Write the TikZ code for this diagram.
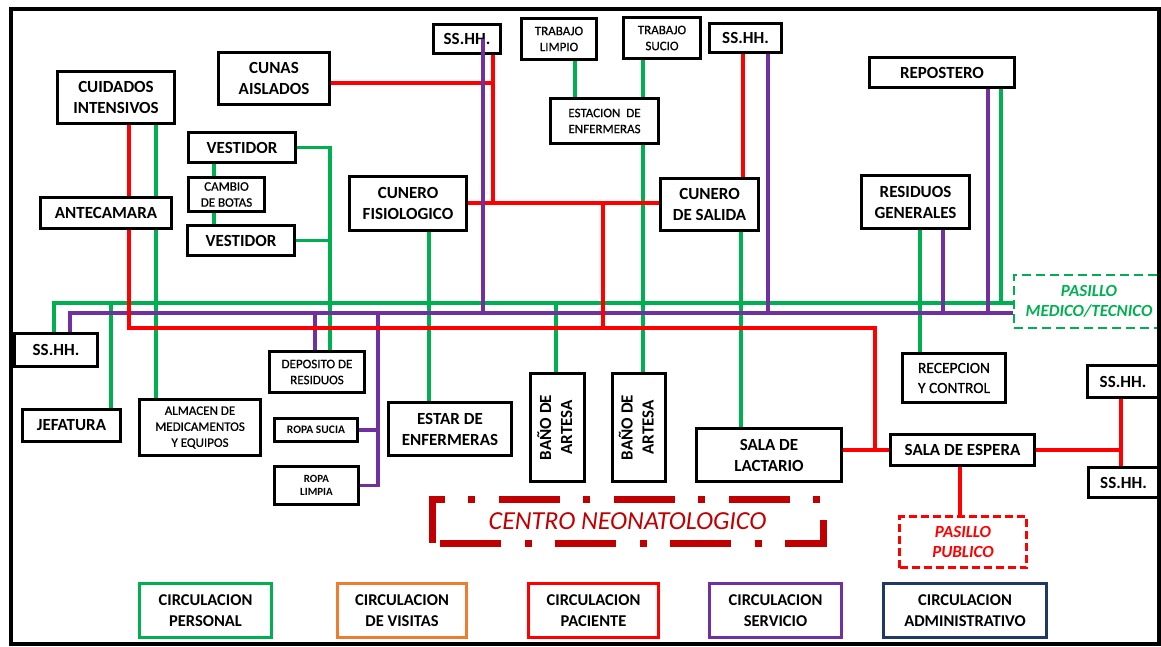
\documentclass[tikz,border=0pt]{standalone}
\usepackage{fontspec}
\setmainfont{Carlito}
\newfontfamily\semib{Carlito}[FakeBold=0.6]
\definecolor{cgreen}{HTML}{00B050}
\definecolor{cpurple}{HTML}{7030A0}
\definecolor{cred}{HTML}{FF0000}
\definecolor{cdred}{HTML}{C00000}
\definecolor{corange}{HTML}{ED7D31}
\definecolor{cnavy}{HTML}{1F3864}
\pgfdeclarelayer{bg}
\pgfsetlayers{bg,main}
\begin{document}
\begin{tikzpicture}[x=1pt,y=-1pt,
  sz/.style 2 args={minimum width=#1pt, minimum height=#2pt},
  box/.style={draw=black, line width=2.8pt, fill=white, inner sep=0pt, align=center,
    font=\bfseries\fontsize{17}{21}\selectfont},
  sbox/.style={box, font=\semib\fontsize{13}{16}\selectfont},
  tbox/.style={box, font=\bfseries\fontsize{11}{13}\selectfont},
  gline/.style={draw=cgreen, line width=3.2pt},
  pline/.style={draw=cpurple, line width=3.2pt},
  rline/.style={draw=cred, line width=4.8pt},
  leg/.style={box, line width=3pt, font=\bfseries\fontsize{16.5}{21}\selectfont},
  pasillo/.style={draw=#1, text=#1, line width=2.6pt, inner sep=0pt, align=center,
    font=\bfseries\itshape\fontsize{17}{20}\selectfont}]
\useasboundingbox (0,0) rectangle (1161,646);

% ---------- nodes ----------
\node[box, sz={117}{52}] (cuid) at (116,97.5) {CUIDADOS\\INTENSIVOS};
\node[box, sz={111}{52}] (cunas) at (274,78.5) {CUNAS\\AISLADOS};
\node[box, sz={107}{30}] (v1) at (242,147.5) {VESTIDOR};
\node[sbox, sz={76}{34}] (cam) at (226.5,194.5) {CAMBIO\\DE BOTAS};
\node[box, sz={107}{30}] (v2) at (241,240.5) {VESTIDOR};
\node[box, sz={131}{31}] (ante) at (106,213) {ANTECAMARA};
\node[box, sz={117}{54}] (fisio) at (408,203.5) {CUNERO\\FISIOLOGICO};
\node[box, sz={67}{29}] (ss1) at (467,39) {SS.HH.};
\node[sbox, sz={75}{41}] (tl) at (559,39) {TRABAJO\\LIMPIO};
\node[sbox, sz={77}{41}] (ts) at (662,38) {TRABAJO\\SUCIO};
\node[box, sz={72}{29}] (ss2) at (745.5,38) {SS.HH.};
\node[sbox, sz={108}{45}] (est) at (604.5,121) {ESTACION~ DE\\ENFERMERAS};
\node[box, sz={98}{52}] (sal) at (709.5,204.5) {CUNERO\\DE SALIDA};
\node[box, sz={145}{30}] (rep) at (942,72.5) {REPOSTERO};
\node[box, sz={108}{53}] (res) at (915.5,202) {RESIDUOS\\GENERALES};
\node[pasillo=cgreen, dash pattern=on 9pt off 5pt, sz={150}{53}] (pm) at (1089,301.5) {PASILLO\\MEDICO/TECNICO};
\node[box, sz={83}{33}] (ssl) at (56,350) {SS.HH.};
\node[box, sz={98}{32}] (jef) at (71.5,425.5) {JEFATURA};
\node[sbox, sz={121}{56}] (alm) at (200,427.5) {ALMACEN DE\\MEDICAMENTOS\\Y EQUIPOS};
\node[sbox, sz={95}{41}] (dep) at (317,372) {DEPOSITO DE\\RESIDUOS};
\node[tbox, font=\bfseries\fontsize{11.5}{13}\selectfont, sz={83}{23}] (rs) at (316,430) {ROPA SUCIA};
\node[tbox, sz={84}{38}] (rl) at (316.5,485.5) {ROPA\\LIMPIA};
\node[box, sz={123}{53}] (estar) at (450,429) {ESTAR DE\\ENFERMERAS};
\node[box, sz={54}{108}] (b1) at (557.5,427.5) {\rotatebox{90}{\begin{tabular}{@{}c@{}}BAÑO DE\\ARTESA\end{tabular}}};
\node[box, sz={53}{108}] (b2) at (639,427.5) {\rotatebox{90}{\begin{tabular}{@{}c@{}}BAÑO DE\\ARTESA\end{tabular}}};
\node[box, sz={145}{53}] (lac) at (769,455) {SALA DE\\LACTARIO};
\node[box, font=\semib\fontsize{15.5}{20}\selectfont, sz={103}{49}] (rec) at (954,378) {RECEPCION\\Y CONTROL};
\node[box, sz={144}{31}] (esp) at (962.5,450) {SALA DE ESPERA};
\node[box, sz={71}{32}] (ssr1) at (1123,381.5) {SS.HH.};
\node[box, sz={70}{30}] (ssr2) at (1123.5,482.5) {SS.HH.};
\node[pasillo=cred, dash pattern=on 8pt off 4pt, sz={127}{51}] (pp) at (963,542) {PASILLO\\PUBLICO};
\node[draw=cdred, text=cdred, line width=7pt, dash pattern=on 61pt off 24pt on 7pt off 23pt,
  dash phase=107pt, inner sep=0pt, sz={391}{43.5}, font=\itshape\fontsize{26}{30}\selectfont]
  (centro) at (627.5,521.25) {CENTRO NEONATOLOGICO};

% legend
\node[leg, draw=cgreen, sz={132}{54}] (lg1) at (205.5,610.5) {CIRCULACION\\PERSONAL};
\node[leg, draw=corange, sz={129}{54}] (lg2) at (402,610.5) {CIRCULACION\\DE VISITAS};
\node[leg, draw=cred, sz={130}{54}] (lg3) at (593.5,610.5) {CIRCULACION\\PACIENTE};
\node[leg, draw=cpurple, sz={132}{54}] (lg4) at (775.5,610.5) {CIRCULACION\\SERVICIO};
\node[leg, draw=cnavy, sz={163}{54}] (lg5) at (965,610.5) {CIRCULACION\\ADMINISTRATIVO};

% ---------- connectors ----------
\begin{pgfonlayer}{bg}
% green (personal)
\draw[gline] (ssl.north -| 54,0) |- (pm.west |- 0,303);
\draw[gline] (jef.north -| 111,0) -- (111,303);
\draw[gline] (cuid.south -| 156,0) -- (ante.north -| 156,0);
\draw[gline] (ante.south -| 156,0) -- (alm.north -| 156,0);
\draw[gline] (v1.east) -| (dep.north -| 330,0);
\draw[gline] (v2.east) -- (v2.east -| 330,0);
\draw[gline] (v1.south -| 214,0) -- (cam.north -| 214,0);
\draw[gline] (cam.south -| 214,0) -- (v2.north -| 214,0);
\draw[gline] (fisio.south -| 429,0) -- (estar.north -| 429,0);
\draw[gline] (b1.north -| 556,0) -- (556,303);
\draw[gline] (tl.south -| 575,0) -- (est.north -| 575,0);
\draw[gline] (ts.south -| 643,0) -- (est.north -| 643,0);
\draw[gline] (est.south -| 643,0) -- (b2.north -| 643,0);
\draw[gline] (sal.south -| 741,0) -- (lac.north -| 741,0);
\draw[gline] (res.south -| 920,0) -- (rec.north -| 920,0);
\draw[gline] (rep.south -| 1001,0) -- (1001,303);
% purple (servicio)
\draw[pline] (ssl.north -| 70,0) |- (pm.west |- 0,313);
\draw[pline] (dep.north -| 315,0) -- (315,313);
\draw[pline] (378,313) |- (rl.east);
\draw[pline] (rs.east) -- (rs.east -| 378,0);
\draw[pline] (ss2.south -| 768,0) -- (768,313);
\draw[pline] (res.south -| 943,0) -- (943,313);
\draw[pline] (rep.south -| 988,0) -- (988,313);
% red (paciente)
\draw[rline] (cuid.south -| 129,0) -- (ante.north -| 129,0);
\draw[rline] (ante.south -| 129,0) |- (875,328) |- (esp.west);
\draw[rline] (lac.east |- esp.west) -- (esp.west);
\draw[rline] (cunas.east |- 0,83) -- (493,83);
\draw[rline] (ss1.south -| 493,0) -- (493,203);
\draw[rline] (fisio.east |- 0,203) -- (sal.west |- 0,203);
\draw[rline] (603,203) -- (603,328);
\draw[rline] (ss2.south -| 743,0) -- (sal.north -| 743,0);
\draw[rline] (esp.east) -- (esp.east -| 1121,0);
\draw[rline] (ssr1.south -| 1121,0) -- (ssr2.north -| 1121,0);
\draw[rline] (esp.south -| 960,0) -- (pp.north -| 960,0);
\end{pgfonlayer}

% purple line drawn over the SS.HH. box
\draw[pline] (ss1.center -| 483,0) -- (483,313);

% outer frame
\draw[line width=4pt] (11,9) rectangle (1159,644);
\end{tikzpicture}
\end{document}
